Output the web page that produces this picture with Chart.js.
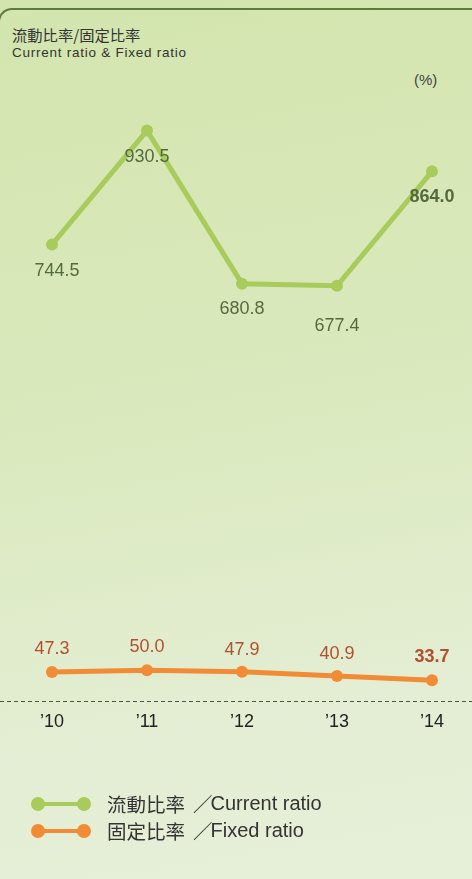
<!DOCTYPE html>
<html>
<head>
<meta charset="utf-8">
<script src="https://cdn.jsdelivr.net/npm/chart.js@4/dist/chart.umd.min.js"></script>
<style>
  html, body { margin: 0; padding: 0; }
  body {
    width: 472px; height: 879px; overflow: hidden; position: relative;
    background: linear-gradient(170deg, #d3e5ae 0%, #dae9bd 45%, #e4eed4 80%, #e6efd8 100%);
    font-family: "Liberation Sans", Arial, "Noto Sans CJK TC", sans-serif;
    color: #333;
  }
  .frame {
    position: absolute; left: -2px; top: 8px; width: 500px; height: 900px;
    border-top: 2px solid #5d7b3a; border-left: 2px solid #5d7b3a;
    border-top-left-radius: 14px;
  }
  .title { position: absolute; left: 12px; top: 24px; color: #333; }
  .title .jp { font-family: "Noto Sans CJK TC", sans-serif; font-size: 15.3px; line-height: 20px; display: block; }
  .title .en { font-size: 13.5px; letter-spacing: 0.75px; line-height: 17px; display: block; }
  .unit { position: absolute; left: 414px; top: 71px; font-size: 15px; color: #444; }
  canvas#chart { position: absolute; left: 0; top: 0; }
  .legend { position: absolute; left: 31px; top: 790px; font-size: 20px; color: #333; }
  .legend .row { height: 27px; display: flex; align-items: center; }
  .legend .icon { position: relative; width: 60px; height: 14px; margin-right: 16px; }
  .legend .icon .bar { position: absolute; left: 6px; right: 6px; top: 5px; height: 4px; }
  .legend .icon .dot { position: absolute; top: 0; width: 14px; height: 14px; border-radius: 50%; }
  .legend .jp { font-family: "Noto Sans CJK TC", sans-serif; font-size: 19.5px; }
  .legend .sl { font-family: "Noto Sans CJK TC", sans-serif; font-size: 19.5px; margin-left: 8px; margin-right: -2px; }
</style>
</head>
<body>
<div class="frame"></div>
<div class="title"><span class="jp">流動比率/固定比率</span><span class="en">Current ratio &amp; Fixed ratio</span></div>
<div class="unit">(%)</div>
<canvas id="chart" width="472" height="879"></canvas>
<div class="legend">
  <div class="row">
    <div class="icon"><div class="bar" style="background:#a8cb5c"></div><div class="dot" style="left:0;background:#a8cb5c"></div><div class="dot" style="right:0;background:#a8cb5c"></div></div>
    <span class="jp">流動比率</span><span class="sl">／</span>Current ratio
  </div>
  <div class="row">
    <div class="icon"><div class="bar" style="background:#f28b35"></div><div class="dot" style="left:0;background:#f28b35"></div><div class="dot" style="right:0;background:#f28b35"></div></div>
    <span class="jp">固定比率</span><span class="sl">／</span>Fixed ratio
  </div>
</div>
<script>
// ── Data ────────────────────────────────────────────
const years        = ['\u201910', '\u201911', '\u201912', '\u201913', '\u201914'];
const currentRatio = [744.5, 930.5, 680.8, 677.4, 864.0];
const fixedRatio   = [47.3, 50.0, 47.9, 40.9, 33.7];

const GREEN  = '#a8cb5c';
const ORANGE = '#f28b35';

// value labels: below for current ratio, above for fixed ratio; last one bold
const valueLabels = {
  id: 'valueLabels',
  afterDatasetsDraw(chart) {
    const ctx = chart.ctx;
    const styles = [
      { color: '#55693f', offsets: [[5, 26], [0, 26], [0, 25], [0, 40], [0, 26]] },
      { color: '#b24f2e', offsets: [[0, -23], [0, -23], [0, -22], [0, -22], [0, -23]] },
    ];
    chart.data.datasets.forEach((ds, di) => {
      const meta = chart.getDatasetMeta(di);
      const st = styles[di];
      meta.data.forEach((pt, i) => {
        const last = i === ds.data.length - 1;
        ctx.save();
        ctx.font = (last ? 'bold ' : '') + '18px "Liberation Sans", Arial, sans-serif';
        ctx.fillStyle = st.color;
        ctx.textAlign = 'center';
        ctx.textBaseline = 'middle';
        ctx.fillText(ds.data[i].y.toFixed(1), pt.x + st.offsets[i][0], pt.y + st.offsets[i][1]);
        ctx.restore();
      });
    });
  }
};

const toPoints = arr => arr.map((v, i) => ({ x: i, y: v }));

new Chart(document.getElementById('chart'), {
  type: 'line',
  data: {
    datasets: [
      {
        label: 'Current ratio',
        data: toPoints(currentRatio),
        borderColor: GREEN, backgroundColor: GREEN,
        borderWidth: 5, pointRadius: 6, pointBackgroundColor: GREEN, pointBorderWidth: 0,
        tension: 0, clip: false,
      },
      {
        label: 'Fixed ratio',
        data: toPoints(fixedRatio),
        borderColor: ORANGE, backgroundColor: ORANGE,
        borderWidth: 5, pointRadius: 6, pointBackgroundColor: ORANGE, pointBorderWidth: 0,
        tension: 0, clip: false,
      },
    ],
  },
  options: {
    responsive: false,
    animation: false,
    layout: { autoPadding: false, padding: { top: 88, left: 0, right: 0, bottom: 138 } },
    plugins: { legend: { display: false }, tooltip: { enabled: false } },
    scales: {
      x: {
        type: 'linear',
        min: -0.547, max: 4.421,
        grid: { display: false, drawTicks: false },
        border: { display: false },
        afterBuildTicks: scale => { scale.ticks = years.map((_, i) => ({ value: i })); },
        afterFit: scale => { scale.height = 40; scale.paddingLeft = 0; scale.paddingRight = 0; },
        ticks: {
          padding: 10,
          color: '#222',
          font: { size: 18, family: '"Liberation Sans", Arial, sans-serif' },
          callback: v => years[v] ?? '',
          autoSkip: false, maxRotation: 0,
        },
      },
      y: {
        min: 0, max: 1000,
        ticks: { display: false },
        afterFit: scale => { scale.width = 0; },
        border: { display: false, dash: [4, 3] },
        grid: {
          drawTicks: false,
          lineWidth: 1,
          color: c => c.tick && c.tick.value === 0 ? '#4d5540' : 'rgba(0,0,0,0)',
        },
      },
    },
  },
  plugins: [valueLabels],
});
</script>
</body>
</html>
